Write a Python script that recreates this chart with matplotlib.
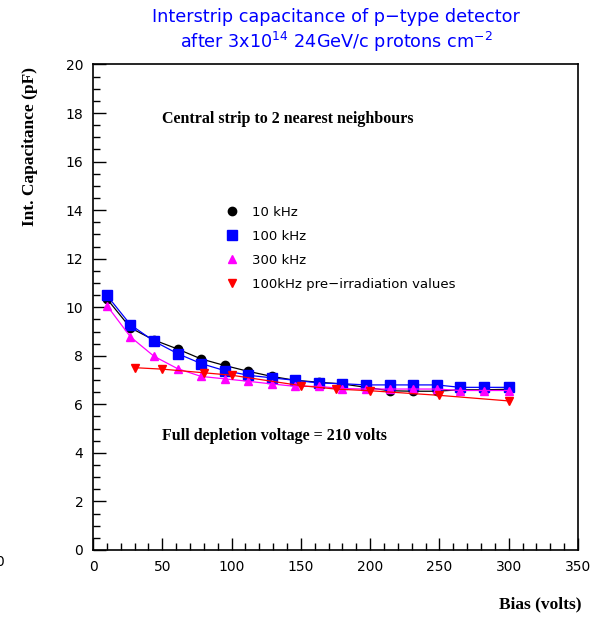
import matplotlib
matplotlib.use("Agg")
import matplotlib.pyplot as plt
from matplotlib.lines import Line2D
from matplotlib.ticker import MultipleLocator

# bias points (volts) for the post-irradiation scans
bias = [10, 27, 44, 61, 78, 95, 112, 129, 146, 163, 180, 197, 214, 231, 248, 265, 282, 300]
cap_10k = [10.35, 9.15, 8.65, 8.28, 7.87, 7.6, 7.36, 7.15, 6.99, 6.91, 6.84, 6.7,
           6.56, 6.54, 6.54, 6.6, 6.6, 6.62]
cap_100k = [10.49, 9.28, 8.6, 8.09, 7.68, 7.39, 7.2, 7.09, 6.99, 6.88, 6.85, 6.8,
            6.8, 6.8, 6.8, 6.7, 6.7, 6.7]
cap_300k = [10.07, 8.78, 7.98, 7.47, 7.15, 7.05, 6.95, 6.84, 6.74, 6.74, 6.65, 6.63,
            6.63, 6.63, 6.63, 6.57, 6.57, 6.57]

# pre-irradiation, 100 kHz
bias_pre = [30, 50, 80, 100, 150, 175, 200, 250, 300]
cap_pre = [7.51, 7.45, 7.3, 7.2, 6.77, 6.63, 6.56, 6.37, 6.14]

labels = ["10 kHz", "100 kHz", "300 kHz", "100kHz pre\u2212irradiation values"]

sans = "DejaVu Sans"
serif = "Liberation Serif"

fig = plt.figure(figsize=(5.99, 6.17), dpi=100)
ax = fig.add_axes([0.1553, 0.1086, 0.8097, 0.7869])

ax.plot(bias, cap_10k, color="black", lw=0.9, marker="o", ms=6)
ax.plot(bias, cap_100k, color="blue", lw=0.9, marker="s", ms=6.5)
ax.plot(bias, cap_300k, color="magenta", lw=0.9, marker="^", ms=6)
ax.plot(bias_pre, cap_pre, color="red", lw=0.9, marker="v", ms=6)

ax.set_xlim(0, 350)
ax.set_ylim(0, 20)
ax.xaxis.set_major_locator(MultipleLocator(50))
ax.xaxis.set_minor_locator(MultipleLocator(10))
ax.yaxis.set_major_locator(MultipleLocator(2))
ax.yaxis.set_minor_locator(MultipleLocator(0.5))
ax.tick_params(which="both", direction="in", top=False, right=False, width=1)
ax.tick_params(which="major", length=9, labelsize=10, pad=7)
ax.tick_params(which="minor", length=5)
for lab in ax.get_xticklabels() + ax.get_yticklabels():
    lab.set_family(sans)
for s in ax.spines.values():
    s.set_linewidth(1.2)

handles = [
    Line2D([], [], ls="none", marker="o", color="black", ms=6),
    Line2D([], [], ls="none", marker="s", color="blue", ms=6.5),
    Line2D([], [], ls="none", marker="^", color="magenta", ms=6),
    Line2D([], [], ls="none", marker="v", color="red", ms=6),
]
ax.legend(handles, labels, loc="upper left", bbox_to_anchor=(0.259, 0.7226),
          frameon=False, handlelength=1.0, handletextpad=1.03, labelspacing=0.84,
          borderpad=0, prop={"family": sans, "size": 9.5})

ax.text(50, 17.75, "Central strip to 2 nearest neighbours", family=serif,
        weight="bold", fontsize=11.5, va="center")
ax.text(50, 4.7, "Full depletion voltage = 210 volts", family=serif,
        weight="bold", fontsize=11.5, va="center")

fig.text(0.561, 0.972, "Interstrip capacitance of p\u2212type detector", color="blue",
         family=sans, fontsize=12.7, ha="center", va="center")
fig.text(0.561, 0.932, "after 3x10$^{\\mathregular{14}}$ 24GeV/c protons cm$^{\\mathregular{-2}}$",
         color="blue", family=sans, fontsize=12.7, ha="center", va="center")

fig.text(0.05, 0.762, "Int. Capacitance (pF)", family=serif, weight="bold", fontsize=12.5,
         rotation=90, ha="center", va="center")
fig.text(0.970, 0.02, "Bias (volts)", family=serif, weight="bold", fontsize=12.5,
         ha="right", va="center")

# clipped label from a neighbouring panel at the left edge
fig.text(0.0, 0.089, "0", family=sans, fontsize=10, ha="center", va="center")

fig.savefig("out.png", dpi=100)
